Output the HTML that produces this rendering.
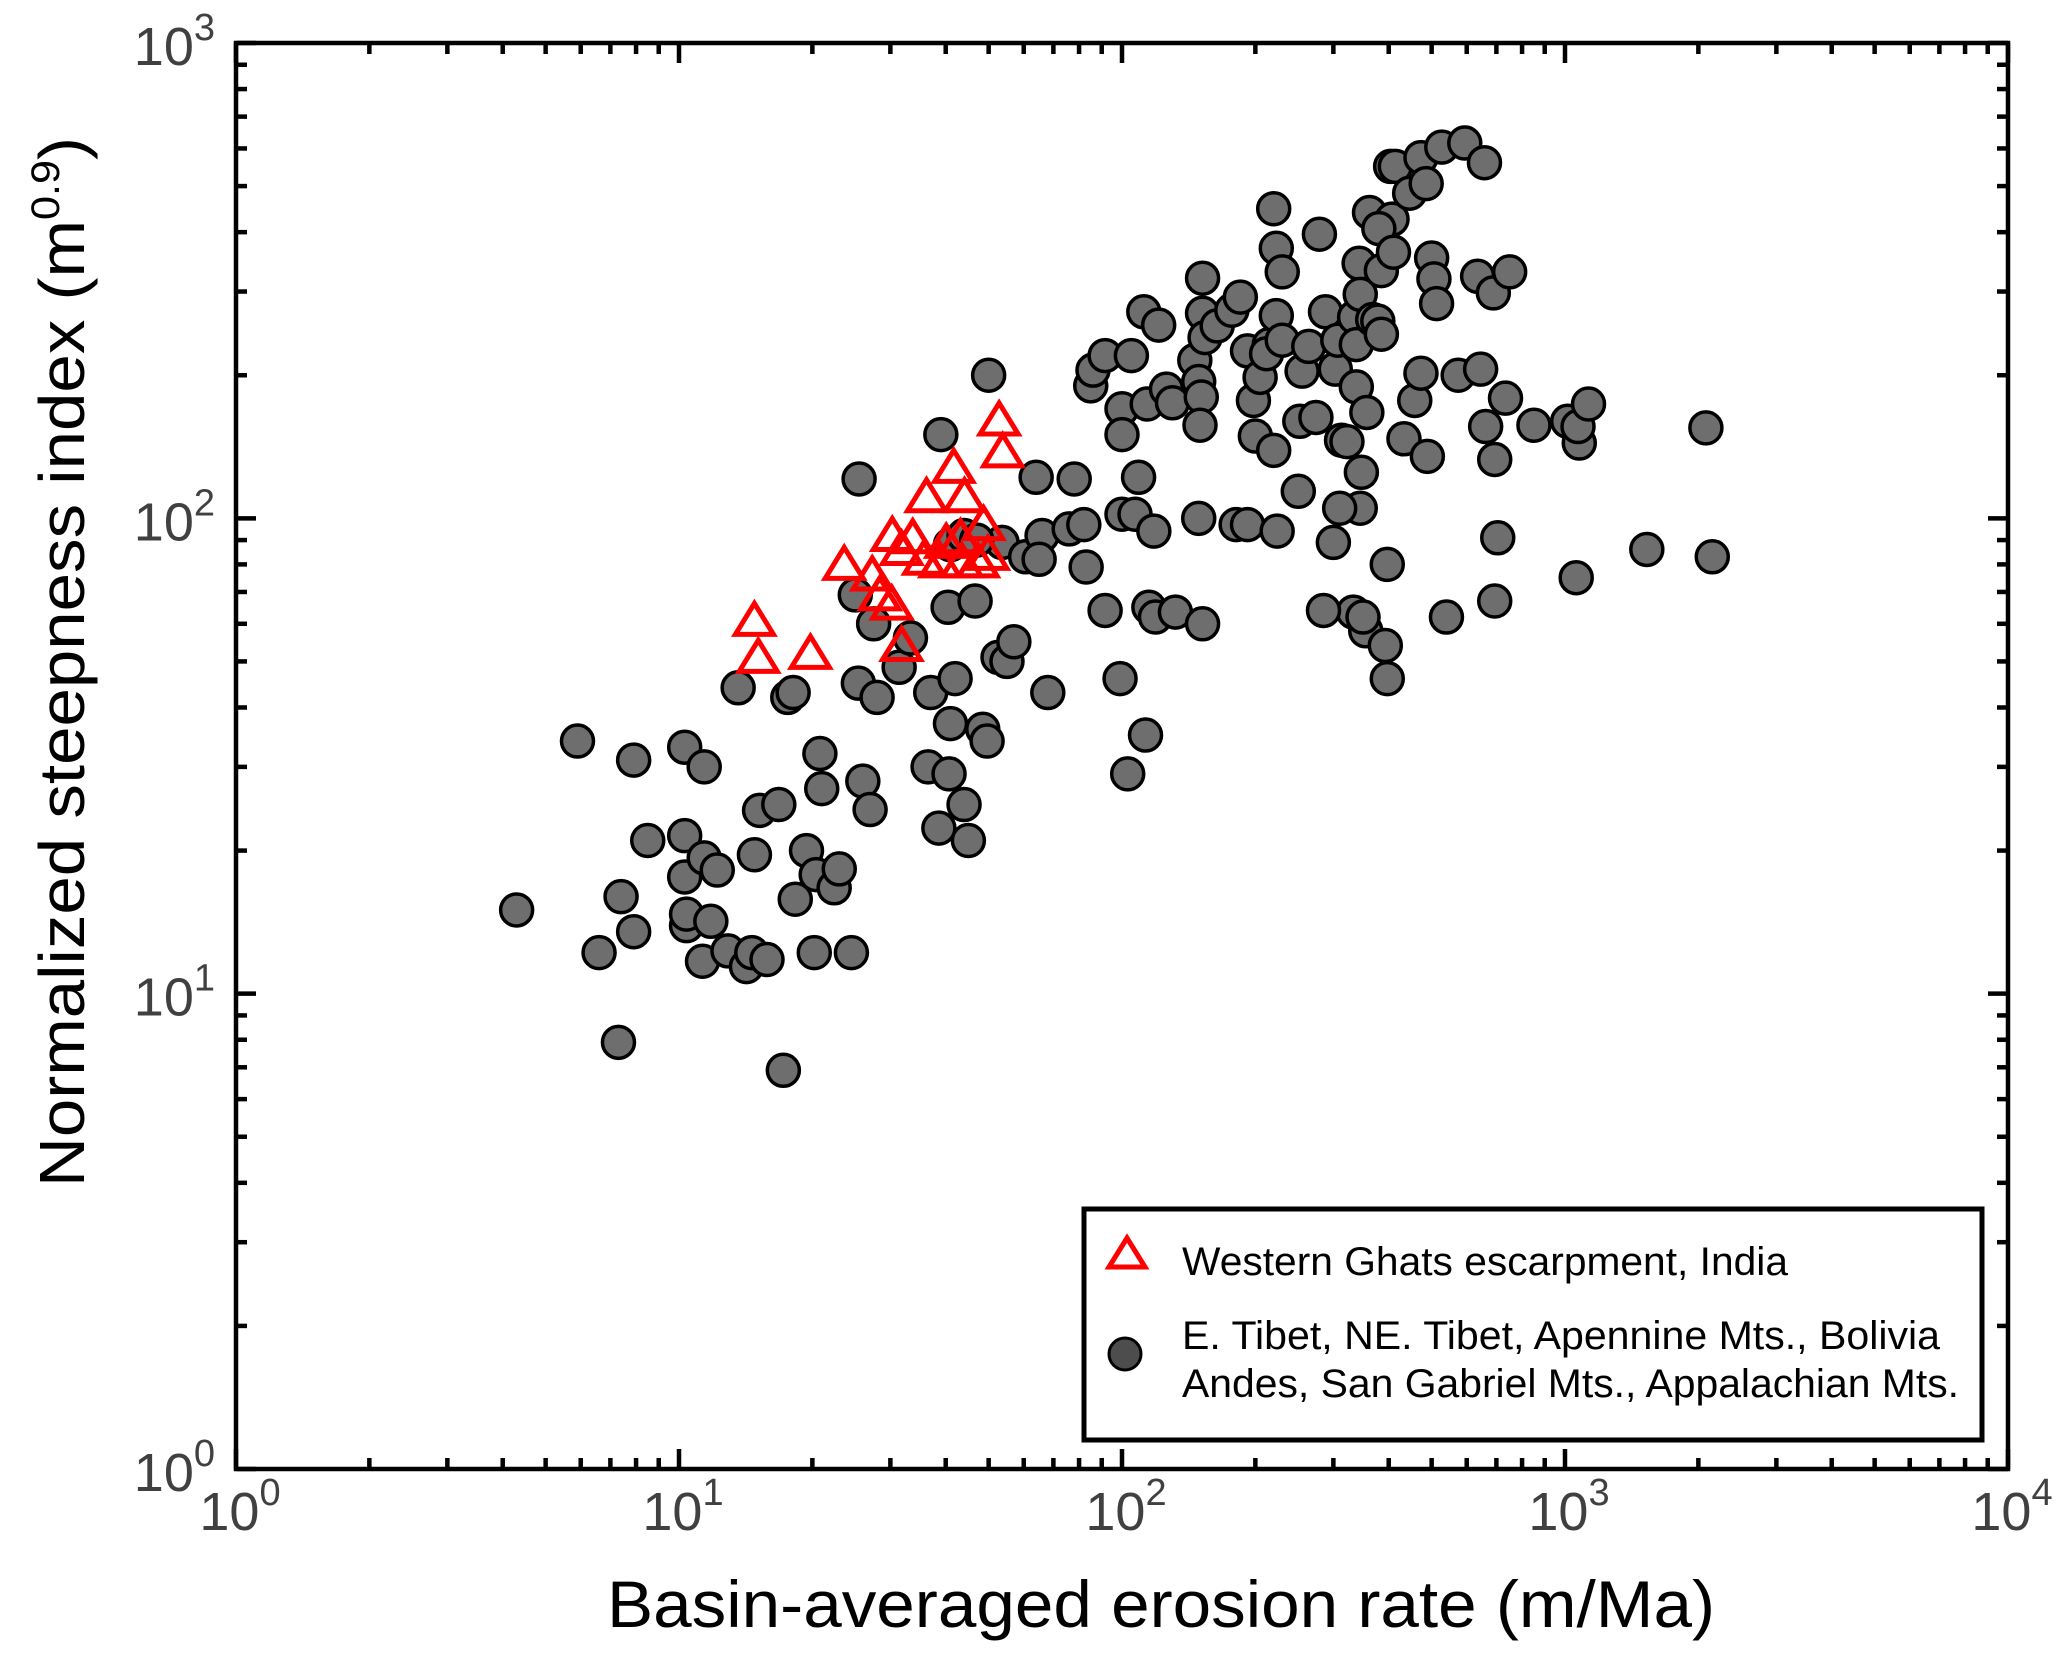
<!DOCTYPE html>
<html><head><meta charset="utf-8"><style>
html,body{margin:0;padding:0;background:#fff;}
svg{display:block;font-family:"Liberation Sans",Arial,sans-serif;}
</style></head><body>
<svg id="chart" width="2067" height="1653" viewBox="0 0 2067 1653" xmlns="http://www.w3.org/2000/svg">
<rect x="0" y="0" width="2067" height="1653" fill="#fff"/>
<g id="marks"></g>
<g id="axes"></g>
<text x="1161" y="1627" font-size="66" text-anchor="middle" fill="#000" textLength="1108" lengthAdjust="spacingAndGlyphs">Basin-averaged erosion rate (m/Ma)</text>
<text transform="translate(84,662) rotate(-90)" font-size="64" text-anchor="middle" fill="#000" textLength="1050" lengthAdjust="spacingAndGlyphs">Normalized steepness index (m<tspan font-size="40" dy="-25">0.9</tspan><tspan dy="25">)</tspan></text>
<g>
<rect x="1084" y="1209" width="898" height="231" fill="#fff" stroke="#000" stroke-width="5"/>
<polygon points="1127,1238 1145,1267 1109,1267" fill="none" stroke="#ff0000" stroke-width="5"/>
<text x="1182" y="1275" font-size="40" fill="#000" textLength="606" lengthAdjust="spacingAndGlyphs">Western Ghats escarpment, India</text>
<circle cx="1125" cy="1354" r="16" fill="#4d4d4d" stroke="#000" stroke-width="3"/>
<text x="1182" y="1349" font-size="40" fill="#000" textLength="758" lengthAdjust="spacingAndGlyphs">E. Tibet, NE. Tibet, Apennine Mts., Bolivia</text>
<text x="1182" y="1397" font-size="40" fill="#000" textLength="777" lengthAdjust="spacingAndGlyphs">Andes, San Gabriel Mts., Appalachian Mts.</text>
</g>
</svg>
<script>
const xTickExponents = [0, 1, 2, 3, 4];
const yTickExponents = [0, 1, 2, 3];
const grayX = [4.3,5.9,6.6,7.3,7.4,7.9,7.9,8.5,10.3,10.3,10.4,10.3,10.4,11.4,11.4,11.3,11.8,12.2,12.9,13.6,14.2,14.6,14.8,15.2,15.8,16.8,17.2,17.6,18.1,18.3,19.4,20.2,20.4,20.8,21,22.4,23,24.5,25,25.5,25.4,26,27,27.5,28,31.4,33.3,36.5,37,39,38.6,40.5,40.7,41,42,44,45,46.6,48.5,49.6,50,52.5,53.6,55,57,60.6,64,66,65,68,76,78,83,82,85,86,91.6,91.6,99,41,44,47,
100,100,100,103,105,107,109,113,112,114,118,115,119,121,126,130,132,146,149,152,152,152,149,151,150,154,164,177,185,198,181,192,192,200,205,215,220,212,223,220,223,224,230,230,250,252,255,264,274,279,288,303,307,313,322,333,335,347,338,345,343,338,345,355,350,362,368,378,385,393,397,397,357,385,404,407,380,410,414,433,446,458,473,473,486,489,500,506,513,527,540,574,594,635,645,658,662,689,694,705,734,750,851,1014,1060,1077,1070,1130,1530,2080,2150,285,310,300,694];
const grayY = [15,34,12.2,7.9,16,31,13.5,21,33,21.5,13.9,17.6,14.7,30,19.3,11.7,14.2,18.2,12.3,44,11.4,12.2,19.6,24.3,11.8,25,6.9,42,43,15.8,20,12.2,17.8,32,27,16.7,18.3,12.2,69,121,45,28,24.4,60,42,48.6,56,30,43,150,22.3,65,29,37,46,25,21,67,36,34,200,51,89,50,55,83,122,92,82,43,95,121,79,97,190,205,220,64,46,88,92,90,
170,150,102,29,220,102,122,35,272,174,94,65,62,255,187,175,63.5,215,100,60,320,270,194,180,157,240,254,274,292,177,97,97,225,149,198,232,139,222,370,448,267,94,237,330,114,160,204,230,163,396,272,206,237,146,145,63.5,265,125,189,105,344,232,296,58,62,440,262,260,244,54,46,80,167,332,550,426,407,363,550,147,483,177,574,202,506,135,353,319,283,604,62,200,616,323,206,560,156,298,133,91,179,330,157,160,75,144,156,174,86,155,83,64,105,89,67];
const redX = [14.8,15.1,19.8,23.6,27.3,28.4,30.2,30.3,31.8,31.8,33.7,35.7,36.2,38.9,40.1,41.7,43.5,44.1,43.2,47.3,48.7,49.8,52.8,53.8];
const redY = [61,51,52,80,76,69,66,92,54,86,91,82,111,81,89,128,81,111,91,81,97,84,161,138];

const SVGNS = "http://www.w3.org/2000/svg";
const L = 236, R = 2008, T = 43, B = 1469;
const xLogMin = 0, xLogMax = 4, yLogMin = 0, yLogMax = 3;
function xScale(v){ return L + (Math.log10(v) - xLogMin) / (xLogMax - xLogMin) * (R - L); }
function yScale(v){ return B - (Math.log10(v) - yLogMin) / (yLogMax - yLogMin) * (B - T); }
function mk(tag, attrs, parent){ const e = document.createElementNS(SVGNS, tag); for (const k in attrs) e.setAttribute(k, attrs[k]); parent.appendChild(e); return e; }

const marks = document.getElementById('marks');
for (let i = 0; i < grayX.length; i++) {
  const c = mk('circle', {cx: xScale(grayX[i]), cy: yScale(grayY[i]), r: 16, fill: '#6e6e6e', stroke: '#000', 'stroke-width': 3.5}, marks);
  
  
}
for (let i = 0; i < redX.length; i++) {
  const cx = xScale(redX[i]), cy = yScale(redY[i]);
  const p = mk('polygon', {points: `${cx},${cy-17} ${cx+19},${cy+14} ${cx-19},${cy+14}`, fill: 'none', stroke: '#ff0000', 'stroke-width': 5}, marks);
  
  
}

const axes = document.getElementById('axes');
const frame = mk('rect', {x: L, y: T, width: R - L, height: B - T, fill: 'none', stroke: '#000', 'stroke-width': 4.5}, axes);


for (let e = xLogMin; e <= xLogMax; e++) {
  for (let m = 1; m <= 9; m++) {
    if (e === xLogMax && m > 1) break;
    const v = m * Math.pow(10, e), x = xScale(v), len = m === 1 ? 20 : 11;
    const t1 = mk('line', {x1: x, y1: B, x2: x, y2: B - len, stroke: '#000', 'stroke-width': 4.5}, axes);
    
    
    const t2 = mk('line', {x1: x, y1: T, x2: x, y2: T + len, stroke: '#000', 'stroke-width': 4.5}, axes);
    
    
  }
}
for (let e = yLogMin; e <= yLogMax; e++) {
  for (let m = 1; m <= 9; m++) {
    if (e === yLogMax && m > 1) break;
    const v = m * Math.pow(10, e), y = yScale(v), len = m === 1 ? 20 : 11;
    const t1 = mk('line', {x1: L, y1: y, x2: L + len, y2: y, stroke: '#000', 'stroke-width': 4.5}, axes);
    
    
    const t2 = mk('line', {x1: R, y1: y, x2: R - len, y2: y, stroke: '#000', 'stroke-width': 4.5}, axes);
    
    
  }
}
xTickExponents.forEach(e => {
  const x = xScale(Math.pow(10, e));
  const t = mk('text', {x: x + 4, y: 1530, 'font-size': 54, 'text-anchor': 'middle', fill: '#404040'}, axes);
  
  
  t.innerHTML = `10<tspan font-size="38" dy="-25">${e}</tspan>`;
});
yTickExponents.forEach(e => {
  const y = yScale(Math.pow(10, e));
  const t = mk('text', {x: 215, y: y + 22, 'font-size': 54, 'text-anchor': 'end', fill: '#404040'}, axes);
  
  
  t.innerHTML = `10<tspan font-size="38" dy="-25">${e}</tspan>`;
});
</script>
</body></html>
